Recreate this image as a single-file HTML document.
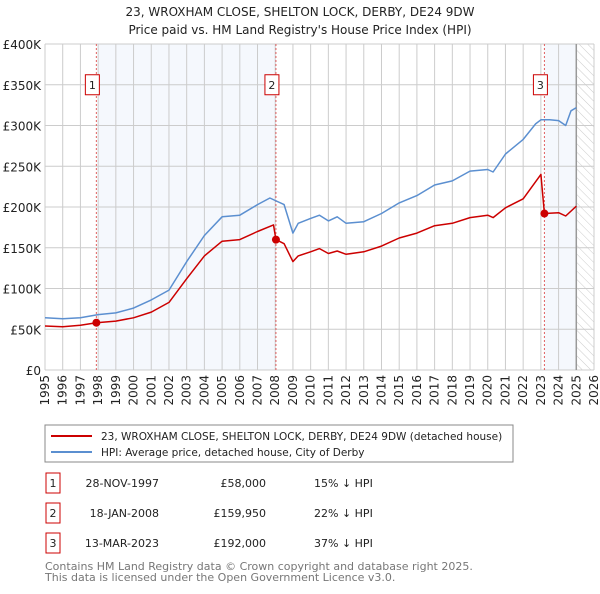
<!DOCTYPE html>
<html><head><meta charset="utf-8"><style>
body{margin:0;background:#fff;width:600px;height:590px;overflow:hidden;font-family:"DejaVu Sans","Liberation Sans",sans-serif;}
svg text{font-family:"DejaVu Sans","Liberation Sans",sans-serif;}
</style></head><body>
<svg id="c" width="600" height="590" xmlns="http://www.w3.org/2000/svg">
<defs><pattern id="hatch" width="6" height="6" patternUnits="userSpaceOnUse" patternTransform="rotate(-45)"><line x1="0" y1="0" x2="0" y2="6" stroke="#ccc" stroke-width="1"/></pattern></defs>
<text x="300" y="16" text-anchor="middle" font-size="12" fill="#222">23, WROXHAM CLOSE, SHELTON LOCK, DERBY, DE24 9DW</text>
<text x="300" y="34" text-anchor="middle" font-size="12" fill="#222">Price paid vs. HM Land Registry's House Price Index (HPI)</text>
<g id="plot"></g>
<g>
<rect x="45" y="425" width="468" height="37" fill="#fff" stroke="#888"/>
<line x1="51" y1="436" x2="92" y2="436" stroke="#cc0000" stroke-width="2"/>
<text x="101" y="440" font-size="10.5" fill="#222">23, WROXHAM CLOSE, SHELTON LOCK, DERBY, DE24 9DW (detached house)</text>
<line x1="51" y1="452" x2="92" y2="452" stroke="#5b8fd0" stroke-width="2"/>
<text x="101" y="456" font-size="10.5" fill="#222">HPI: Average price, detached house, City of Derby</text>
</g>
<g id="table" font-size="11" fill="#222"></g>
<text x="45" y="570" font-size="11" fill="#777">Contains HM Land Registry data © Crown copyright and database right 2025.</text>
<text x="45" y="581" font-size="11" fill="#777">This data is licensed under the Open Government Licence v3.0.</text>
</svg>
<script>
const hpiYears=[1995,1996,1997,1998,1999,2000,2001,2002,2003,2004,2005,2006,2007,2007.7,2008,2008.5,2009,2009.3,2010,2010.5,2011,2011.5,2012,2013,2014,2015,2016,2017,2018,2019,2020,2020.3,2021,2022,2022.7,2023,2023.5,2024,2024.4,2024.7,2025];
const hpiValues=[64,63,64,68,70,76,86,98,133,165,188,190,203,211,208,203,168,180,186,190,183,188,180,182,192,205,214,227,232,244,246,243,265,283,302,307,307,306,300,318,322];
const ppYears=[1995,1996,1997,1997.9,1999,2000,2001,2002,2003,2004,2005,2006,2007,2007.9,2008.04,2008.5,2009,2009.3,2010,2010.5,2011,2011.5,2012,2013,2014,2015,2016,2017,2018,2019,2020,2020.3,2021,2022,2023.0,2023.2,2024,2024.4,2025];
const ppValues=[54,53,55,58,60,64,71,83,112,140,158,160,170,178,160,155,133,140,145,149,143,146,142,145,152,162,168,177,180,187,190,187,199,210,240,192,193,189,201];
const saleYears=[1997.9,2008.04,2023.2];
const saleValues=[58,159.95,192];
const saleLabels=["1","2","3"];
const saleDates=["28-NOV-1997","18-JAN-2008","13-MAR-2023"];
const salePrices=["£58,000","£159,950","£192,000"];
const saleDiffs=["15% ↓ HPI","22% ↓ HPI","37% ↓ HPI"];
const yTicks=[0,50,100,150,200,250,300,350,400];
const yTickLabels=["£0","£50K","£100K","£150K","£200K","£250K","£300K","£350K","£400K"];
const xTicks=[1995,1996,1997,1998,1999,2000,2001,2002,2003,2004,2005,2006,2007,2008,2009,2010,2011,2012,2013,2014,2015,2016,2017,2018,2019,2020,2021,2022,2023,2024,2025,2026];

const X0=45,X1=594,Y0=370,Y1=44;
const xs=y=>X0+(y-1995)/(2026-1995)*(X1-X0);
const ys=v=>Y0-v/400*(Y0-Y1);
const NS="http://www.w3.org/2000/svg";
const plot=document.getElementById('plot');
function mk(tag,attrs,parent){const e=document.createElementNS(NS,tag);for(const k in attrs)e.setAttribute(k,attrs[k]);(parent||plot).appendChild(e);return e;}

let r=mk('rect',{x:xs(1998),y:Y1,width:xs(2008.04)-xs(1998),height:Y0-Y1,fill:'#eef3fc',opacity:0.6});


r=mk('rect',{x:xs(2023.2),y:Y1,width:xs(2025)-xs(2023.2),height:Y0-Y1,fill:'#eef3fc',opacity:0.6});


r=mk('rect',{x:xs(2025),y:Y1,width:X1-xs(2025),height:Y0-Y1,fill:'url(#hatch)'});



yTicks.forEach((t,i)=>{
  let l=mk('line',{x1:X0,x2:X1,y1:ys(t),y2:ys(t),stroke:'#ccc','stroke-width':1});
  
  
  let tx=mk('text',{x:X0-4,y:ys(t)+5,'text-anchor':'end','font-size':12,fill:'#222'});
  tx.textContent=yTickLabels[i];
  
  
});
xTicks.forEach(t=>{
  let l=mk('line',{x1:xs(t),x2:xs(t),y1:Y1,y2:Y0,stroke:'#ccc','stroke-width':1});
  
  
  let tx=mk('text',{x:0,y:0,'text-anchor':'end','font-size':12,fill:'#222',transform:`translate(${xs(t)+4},${Y0+5}) rotate(-90)`});
  tx.textContent=t;
  
  
});
let edge=mk('line',{x1:xs(2025),x2:xs(2025),y1:Y1,y2:Y0,stroke:'#999','stroke-width':1.5});



saleYears.forEach((y,i)=>{
  let l=mk('line',{x1:xs(y),x2:xs(y),y1:Y1,y2:Y0,stroke:'#e06060','stroke-width':1,'stroke-dasharray':'2,2'});
  
  
  let bx=xs(y)-11;
  let b=mk('rect',{x:bx,y:ys(350)-10,width:14,height:20,fill:'#fff',stroke:'#cc0000'});
  
  
  let t=mk('text',{x:bx+7,y:ys(350)+4,'text-anchor':'middle','font-size':11,fill:'#222'});
  t.textContent=saleLabels[i];
  
  
});

function path(xa,va,color,name){
  let d=xa.map((y,i)=>(i?'L':'M')+xs(y).toFixed(1)+','+ys(va[i]).toFixed(1)).join('');
  let p=mk('path',{d:d,fill:'none',stroke:color,'stroke-width':1.5,'stroke-linejoin':'round'});
  
  
}
path(hpiYears,hpiValues,'#5b8fd0','hpi-line');
path(ppYears,ppValues,'#cc0000','price-paid-line');
saleYears.forEach((y,i)=>{
  let c=mk('circle',{cx:xs(y),cy:ys(saleValues[i]),r:4,fill:'#cc0000'});
  
  
});

const tb=document.getElementById('table');
const rowY=[483,513,543];
saleLabels.forEach((lab,i)=>{
  let b=mk('rect',{x:46,y:rowY[i]-10,width:14,height:20,fill:'#fff',stroke:'#cc0000'},tb);
  
  
  let t=mk('text',{x:53,y:rowY[i]+4,'text-anchor':'middle'},tb);t.textContent=lab;
  
  
  t=mk('text',{x:159,y:rowY[i]+4,'text-anchor':'end'},tb);t.textContent=saleDates[i];
  
  
  t=mk('text',{x:266,y:rowY[i]+4,'text-anchor':'end'},tb);t.textContent=salePrices[i];
  
  
  t=mk('text',{x:314,y:rowY[i]+4},tb);t.textContent=saleDiffs[i];
  
  
});
</script>
</body></html>
